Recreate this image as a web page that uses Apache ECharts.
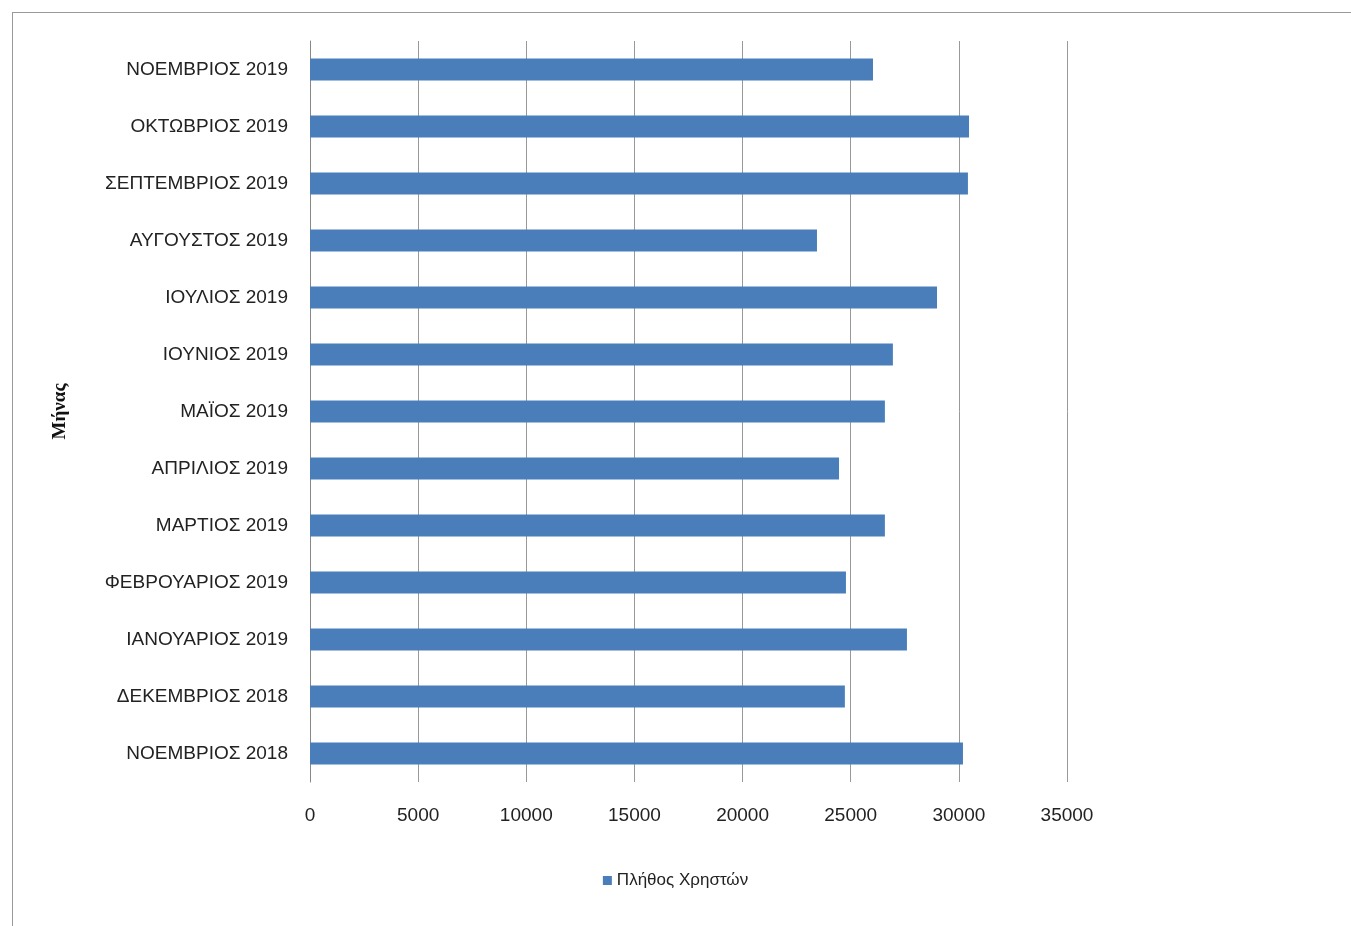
<!DOCTYPE html>
<html><head><meta charset="utf-8">
<script src="https://cdn.jsdelivr.net/npm/echarts@6/dist/echarts.min.js"></script>
<style>html,body{margin:0;padding:0;background:#fff}#c{width:1351px;height:926px}
#f{position:absolute;left:12px;top:12px;width:1339px;height:914px;border-left:1px solid #999;border-top:1px solid #999;box-sizing:border-box;pointer-events:none}</style>
</head><body><div id="c"></div><div id="f"></div>
<script>
const categories=["ΝΟΕΜΒΡΙΟΣ 2018","ΔΕΚΕΜΒΡΙΟΣ 2018","ΙΑΝΟΥΑΡΙΟΣ 2019","ΦΕΒΡΟΥΑΡΙΟΣ 2019","ΜΑΡΤΙΟΣ 2019","ΑΠΡΙΛΙΟΣ 2019","ΜΑΪΟΣ 2019","ΙΟΥΝΙΟΣ 2019","ΙΟΥΛΙΟΣ 2019","ΑΥΓΟΥΣΤΟΣ 2019","ΣΕΠΤΕΜΒΡΙΟΣ 2019","ΟΚΤΩΒΡΙΟΣ 2019","ΝΟΕΜΒΡΙΟΣ 2019"];
const users=[30190,24730,27600,24780,26580,24460,26580,26950,28990,23440,30420,30470,26030];
const chart=echarts.init(document.getElementById('c'));
chart.setOption({
 animation:false,
 grid:{left:310,right:284,top:41,bottom:144},
 legend:{bottom:32,left:'center',itemWidth:9,itemHeight:9,icon:'rect',textStyle:{fontFamily:'Liberation Sans',fontSize:17,color:'#222'},data:['Πλήθος Χρηστών']},
 xAxis:{type:'value',min:0,max:35000,interval:5000,axisLine:{show:false},axisTick:{show:false},
  splitLine:{lineStyle:{color:'#999',width:1}},axisLabel:{formatter:v=>String(v),fontFamily:'Liberation Sans',fontSize:19,color:'#222',margin:24}},
 yAxis:{type:'category',data:categories,name:'Μήνας',nameLocation:'middle',nameGap:240,nameRotate:90,
  nameTextStyle:{fontFamily:'Liberation Serif',fontWeight:'bold',fontSize:19,color:'#111'},
  axisLine:{lineStyle:{color:'#888'}},axisTick:{length:6,lineStyle:{color:'#888'}},
  axisLabel:{fontFamily:'Liberation Sans',fontSize:19,color:'#222',margin:22,padding:[4,0,0,0]}},
 series:[{name:'Πλήθος Χρηστών',type:'bar',data:users,barWidth:22,itemStyle:{color:'#4a7ebb'}}]
});
</script></body></html>
